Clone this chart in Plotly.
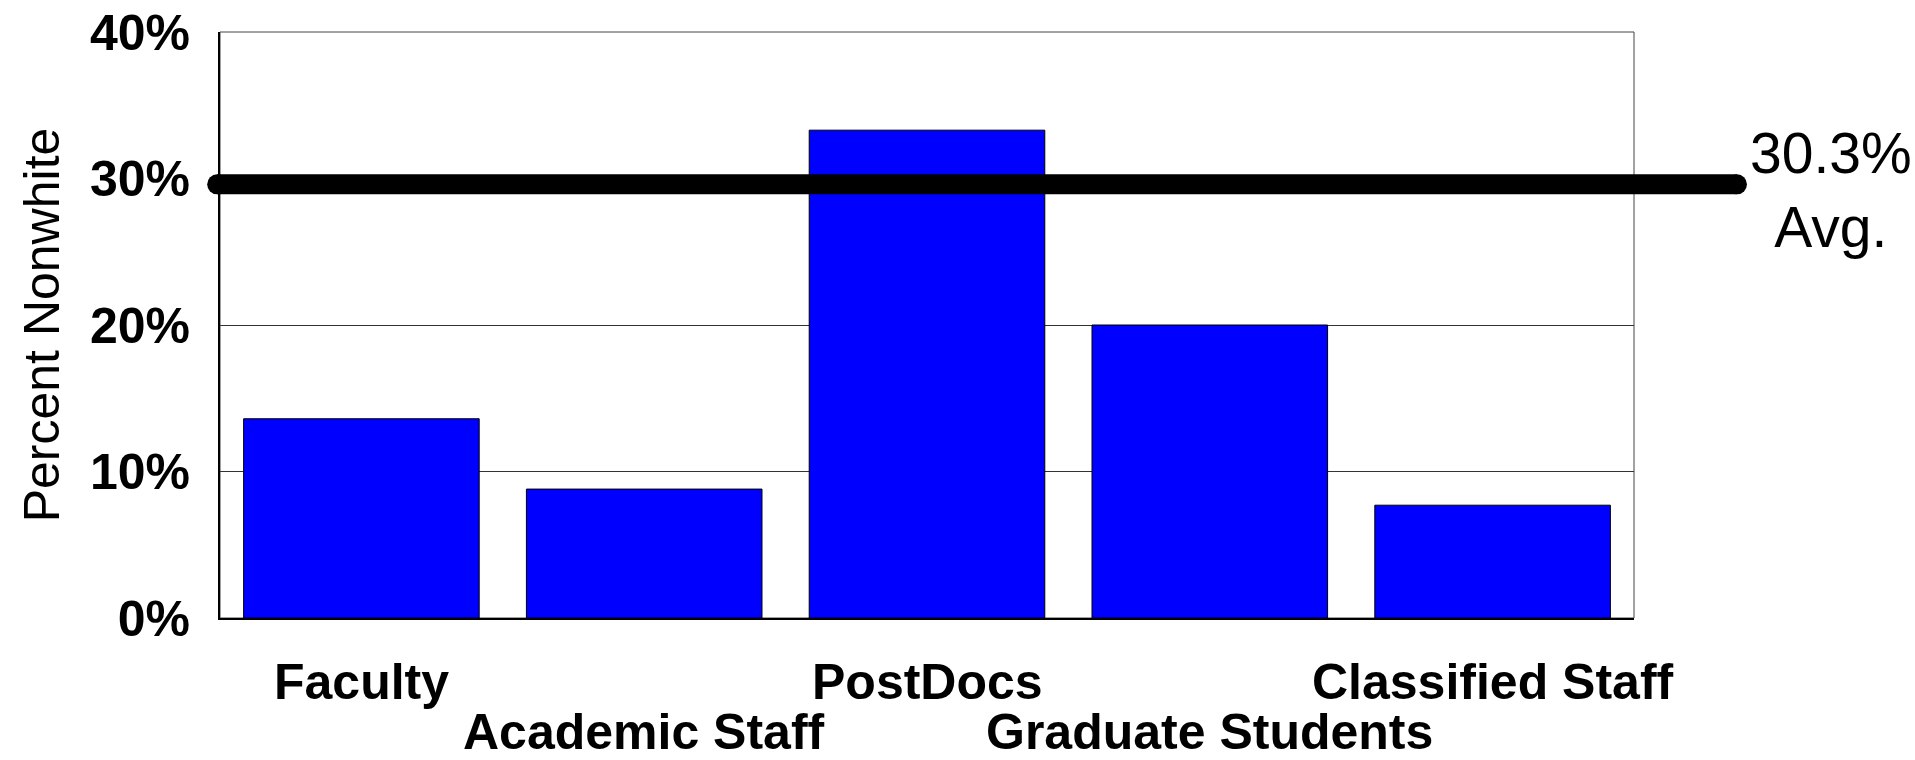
import plotly.graph_objects as go

# ---- data ----
categories = ["Faculty", "Academic Staff", "PostDocs", "Graduate Students", "Classified Staff"]
percent_nonwhite = [13.6, 8.8, 33.3, 20.0, 7.7]
avg_line_value = 29.6          # where the average line is drawn in the picture
avg_label = "30.3%<br>Avg."
y_tick_values = [0, 10, 20, 30, 40]
y_tick_labels = ["0%", "10%", "20%", "30%", "40%"]

FONT = "Liberation Sans, Arial, sans-serif"

fig = go.Figure()
fig.add_trace(go.Bar(
    x=categories,
    y=percent_nonwhite,
    marker=dict(color="#0000FF", line=dict(color="#000000", width=1)),
    showlegend=False,
    hoverinfo="x+y",
))

W, H = 1915, 760
L, R, T, B = 220, 281, 32, 142

fig.update_layout(
    width=W, height=H,
    margin=dict(l=L, r=R, t=T, b=B, pad=0),
    paper_bgcolor="white",
    plot_bgcolor="white",
    bargap=0.167,
    font=dict(family=FONT, color="black"),
    xaxis=dict(
        showticklabels=False,
        automargin=False,
        showgrid=False,
        showline=True, linecolor="black", linewidth=2,
        ticks="",
        range=[-0.5, 4.5],
    ),
    yaxis=dict(
        range=[0, 40],
        tickmode="array",
        tickvals=y_tick_values,
        ticktext=y_tick_labels,
        automargin=False,
        tickfont=dict(family=FONT, size=50, color="black", weight="bold"),
        showgrid=True, gridcolor="#333333", gridwidth=1,
        showline=True, linecolor="black", linewidth=2,
        ticks="",
        ticklabelstandoff=18,
        zeroline=False,
        title=dict(text="Percent Nonwhite", font=dict(family=FONT, size=50, color="black"), standoff=14),
    ),
)

# staggered category labels (alternating rows) placed on the x categories
for i, cat in enumerate(categories):
    row = i % 2
    fig.add_annotation(
        xref="x", yref="paper", x=cat, y=0,
        text=cat, showarrow=False, xanchor="center", yanchor="top",
        yshift=-34 - 50 * row,
        font=dict(family=FONT, size=50, color="black", weight="bold"),
    )

# thin frame on top/right
fig.add_shape(type="rect", xref="paper", yref="paper", x0=0, x1=1, y0=0, y1=1,
              line=dict(color="#444444", width=1), layer="below")

# thick average line with rounded ends
x_start, x_end = -0.002, 1.0728
fig.add_shape(type="line", xref="paper", yref="y", x0=x_start, x1=x_end,
              y0=avg_line_value, y1=avg_line_value,
              line=dict(color="black", width=20), layer="above")
for xa in (x_start, x_end):
    fig.add_shape(type="circle", xref="paper", yref="y",
                  xsizemode="pixel", ysizemode="pixel",
                  xanchor=xa, yanchor=avg_line_value,
                  x0=-10, x1=10, y0=-10, y1=10,
                  fillcolor="black", line=dict(width=0), layer="above")

fig.add_annotation(
    xref="paper", yref="y", x=1.1393, y=avg_line_value, yshift=-6,
    text=avg_label, showarrow=False, xanchor="center", yanchor="middle",
    align="center", font=dict(family=FONT, size=57, color="black"),
)

fig.write_html("out.html")
